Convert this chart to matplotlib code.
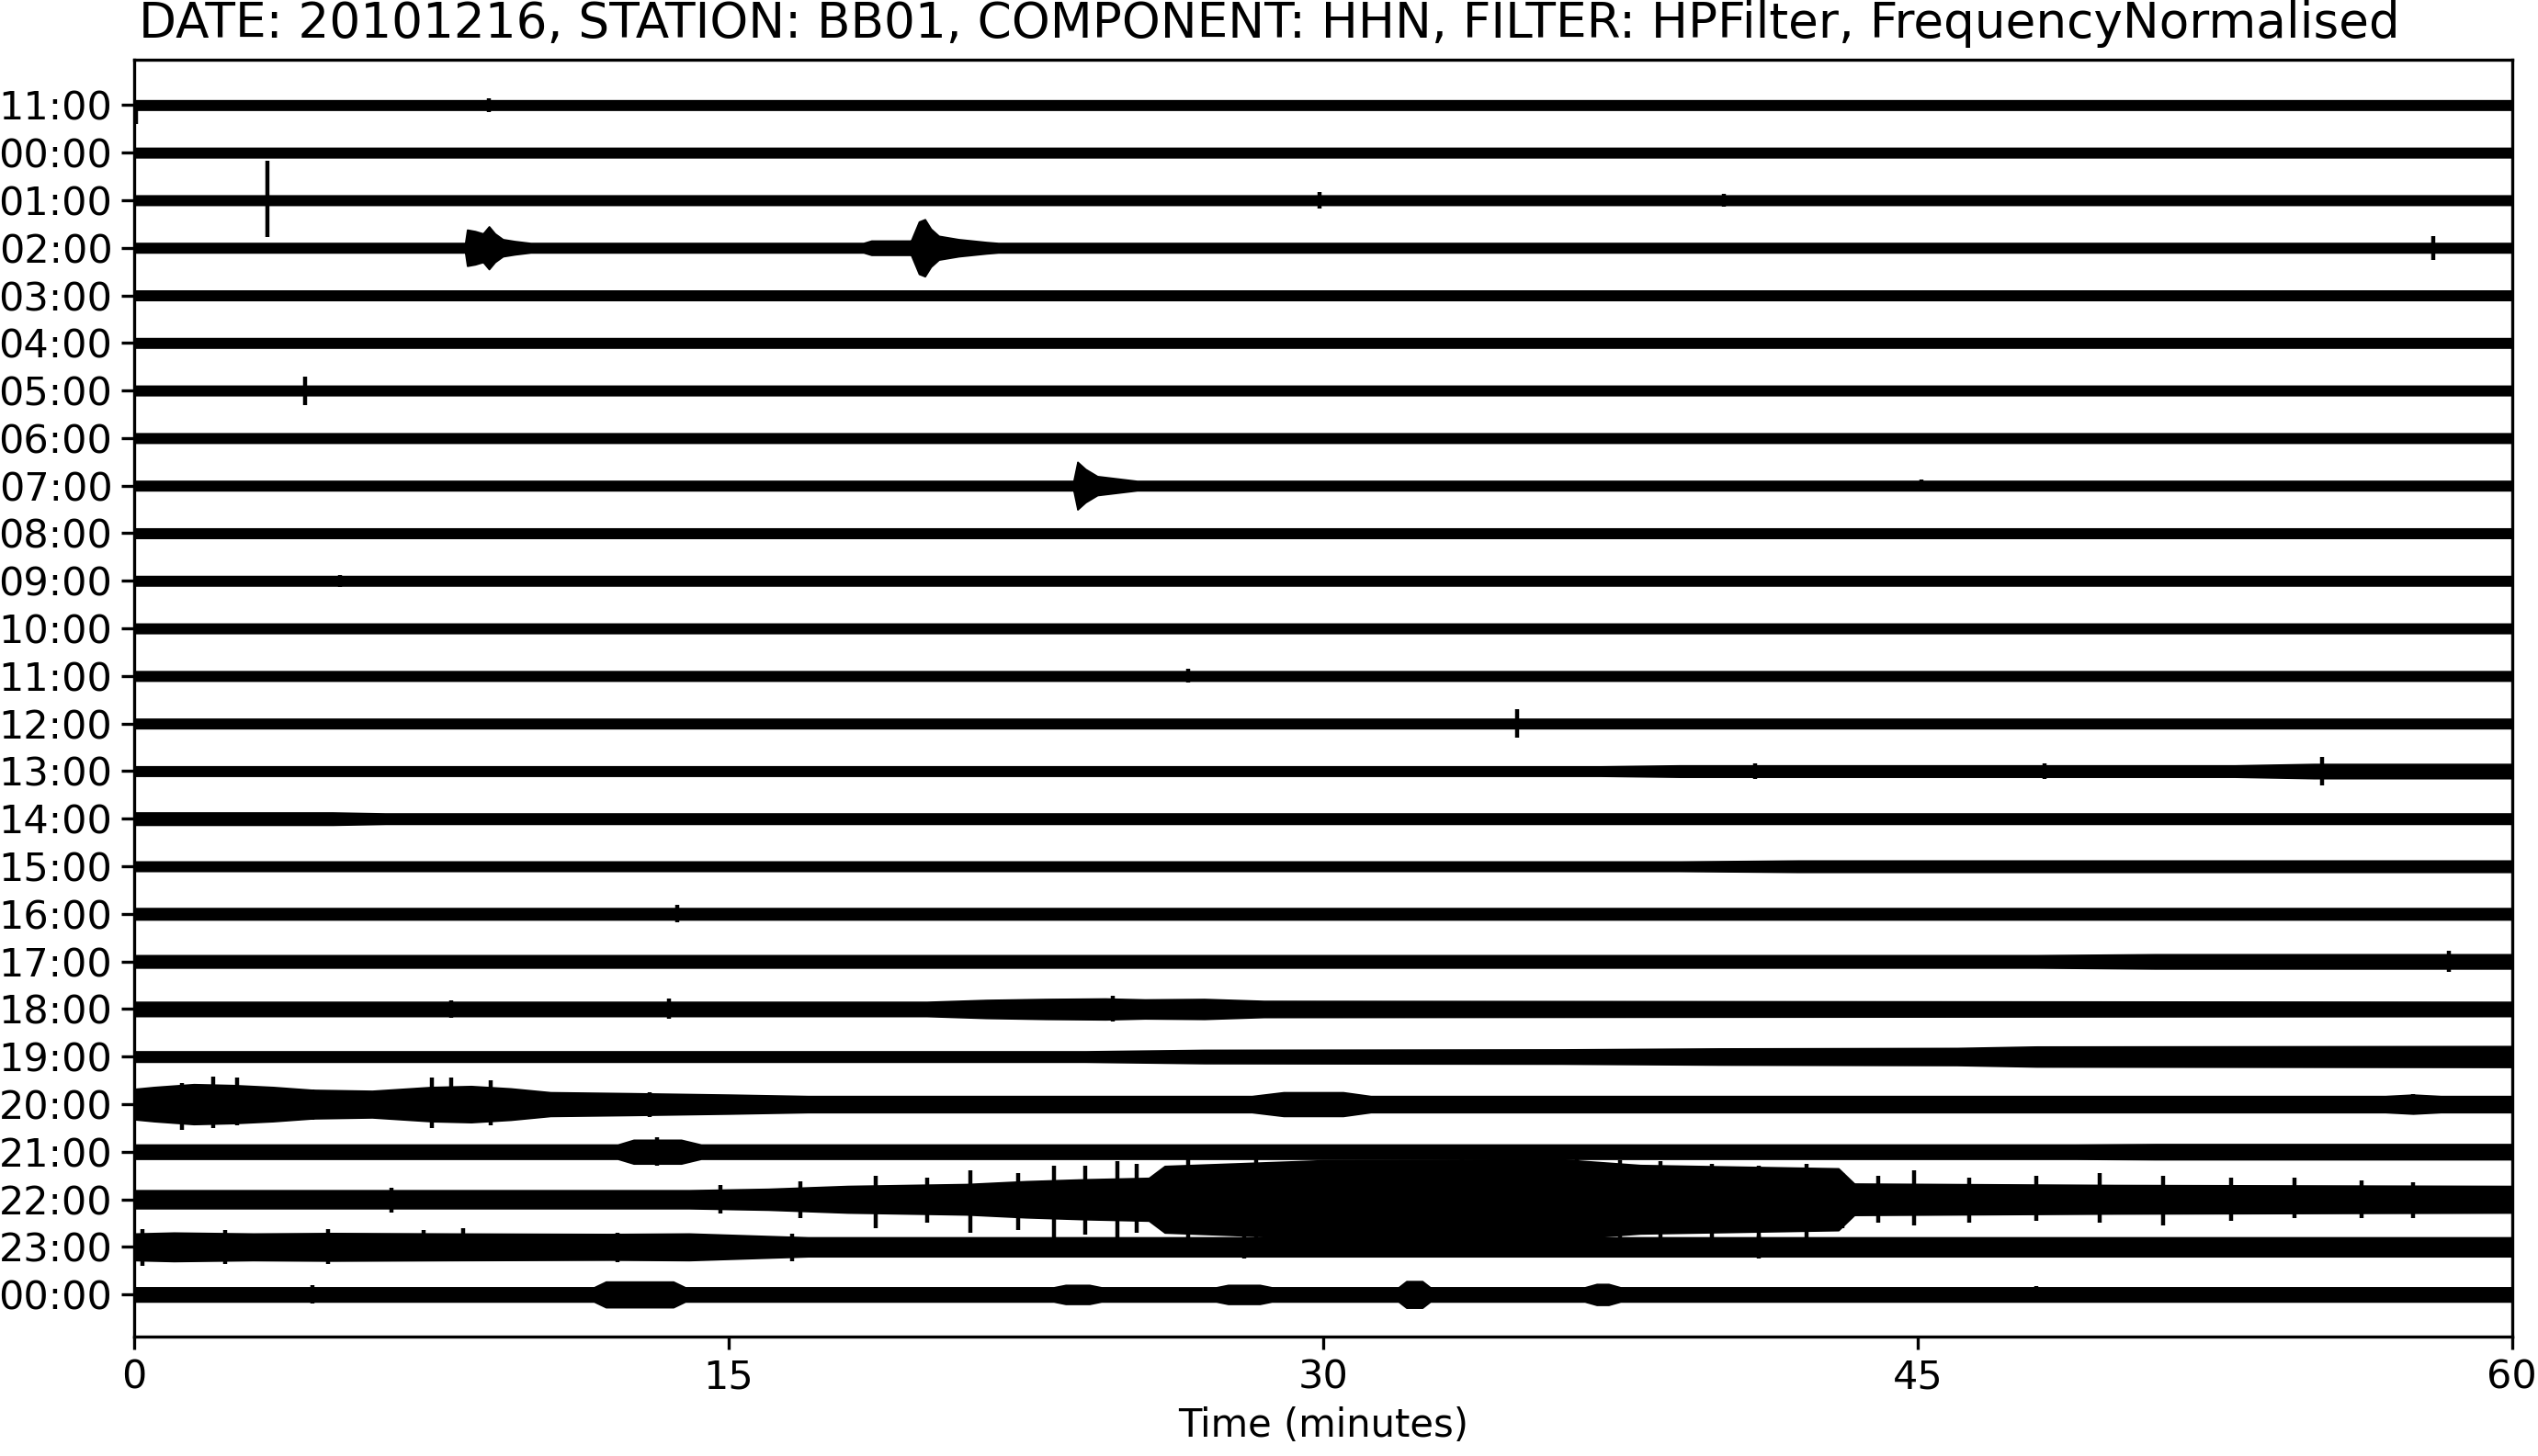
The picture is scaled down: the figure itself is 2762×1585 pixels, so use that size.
import numpy as np
import matplotlib
matplotlib.use("Agg")
import matplotlib.pyplot as plt

# hour rows, top to bottom
hour_labels = ["11:00", "00:00", "01:00", "02:00", "03:00", "04:00", "05:00",
               "06:00", "07:00", "08:00", "09:00", "10:00", "11:00", "12:00",
               "13:00", "14:00", "15:00", "16:00", "17:00", "18:00", "19:00",
               "20:00", "21:00", "22:00", "23:00", "00:00"]

# background half-width of each trace (in row units)
base_amp = [0.10, 0.10, 0.10, 0.10, 0.10, 0.10, 0.10, 0.10, 0.10, 0.10,
            0.10, 0.10, 0.10, 0.10, 0.10, 0.11, 0.10, 0.12, 0.13, 0.15,
            0.11, 0.17, 0.15, 0.19, 0.20, 0.15]

env_rows = [3, 3, 8, 14, 15, 16, 18, 19, 20, 21, 22, 23, 24, 25]
env_times = [
    [8.35, 8.40, 8.60, 8.80, 8.95, 9.10, 9.30, 9.60, 10.0],
    [18.4, 18.6, 19.6, 19.8, 19.95, 20.1, 20.3, 20.8, 21.5, 21.8],
    [23.7, 23.8, 24.0, 24.3, 24.8, 25.3],
    [0, 37, 39, 53, 55, 60],
    [0, 5, 7, 60],
    [0, 39, 42, 60],
    [0, 48, 51, 60],
    [0, 20, 21.5, 23, 24.5, 25.5, 27, 28.5, 60],
    [0, 24, 27, 36, 40, 46, 48, 60],
    [0, 0.5, 1.5, 2.5, 3.5, 4.5, 6, 7.5, 8.5, 9.5, 10.5, 12.5, 15, 17,
     28.2, 29, 30.5, 31.2, 56.8, 57.5, 58.2, 60],
    [0, 12.2, 12.6, 13.8, 14.3, 49, 51, 60],
    [0, 14, 16, 18, 19.5, 21, 22.5, 24, 25.6, 26.0, 30, 36, 38, 43.0,
     43.4, 50, 60],
    [0, 1, 3, 5, 8, 12, 14, 15.5, 17, 45, 50, 52, 60],
    [0, 11.6, 11.9, 13.6, 13.9, 23.2, 23.5, 24.1, 24.4, 27.3, 27.6, 28.4,
     28.7, 31.9, 32.1, 32.5, 32.7, 36.6, 36.9, 37.2, 37.5, 60],
]
env_amps = [
    [0.10, 0.38, 0.35, 0.30, 0.45, 0.30, 0.18, 0.14, 0.10],
    [0.10, 0.15, 0.15, 0.55, 0.60, 0.40, 0.25, 0.18, 0.12, 0.10],
    [0.10, 0.50, 0.35, 0.20, 0.15, 0.10],
    [0.10, 0.10, 0.12, 0.12, 0.15, 0.15],
    [0.13, 0.13, 0.10, 0.10],
    [0.10, 0.10, 0.12, 0.12],
    [0.13, 0.13, 0.15, 0.15],
    [0.15, 0.15, 0.19, 0.21, 0.22, 0.20, 0.21, 0.17, 0.15],
    [0.11, 0.11, 0.14, 0.15, 0.17, 0.18, 0.21, 0.22],
    [0.32, 0.36, 0.42, 0.40, 0.36, 0.30, 0.28, 0.36, 0.38, 0.33, 0.25,
     0.23, 0.20, 0.17, 0.17, 0.25, 0.25, 0.17, 0.17, 0.20, 0.17, 0.17],
    [0.15, 0.15, 0.25, 0.25, 0.15, 0.15, 0.16, 0.16],
    [0.19, 0.19, 0.22, 0.28, 0.30, 0.32, 0.38, 0.42, 0.45, 0.70, 0.82,
     0.84, 0.72, 0.65, 0.33, 0.30, 0.28],
    [0.28, 0.30, 0.28, 0.29, 0.28, 0.27, 0.28, 0.24, 0.20, 0.20, 0.19,
     0.16, 0.16],
    [0.15, 0.15, 0.27, 0.27, 0.15, 0.15, 0.20, 0.20, 0.15, 0.15, 0.20,
     0.20, 0.15, 0.15, 0.28, 0.28, 0.15, 0.15, 0.22, 0.22, 0.15, 0.15],
]

# single spikes: (row, minute, up, down)
spikes = [
    (0, 0.05, 0.40, 0.10), (0, 8.95, 0.15, 0.15),
    (2, 3.35, 0.78, 0.82), (2, 29.9, 0.18, 0.18), (2, 40.1, 0.13, 0.13),
    (3, 58.0, 0.25, 0.25), (6, 4.3, 0.30, 0.30), (8, 45.1, 0.13, 0.13),
    (10, 5.2, 0.13, 0.13), (12, 26.6, 0.13, 0.15),
    (13, 34.9, 0.30, 0.30), (14, 40.9, 0.16, 0.16), (14, 48.2, 0.16, 0.16),
    (14, 55.2, 0.30, 0.30), (17, 13.7, 0.18, 0.18), (18, 58.4, 0.22, 0.22),
    (19, 8.0, 0.19, 0.19), (19, 13.5, 0.20, 0.22), (19, 24.7, 0.27, 0.27),
    (21, 57.5, 0.22, 0.22),
    (21, 1.2, 0.55, 0.45), (21, 2.0, 0.50, 0.58), (21, 2.6, 0.45, 0.55),
    (21, 4.5, 0.33, 0.30), (21, 7.5, 0.50, 0.55), (21, 8.0, 0.35, 0.55),
    (21, 9.0, 0.45, 0.50), (21, 11.0, 0.28, 0.25), (21, 13.0, 0.28, 0.25),
    (22, 13.2, 0.30, 0.30),
    (23, 6.5, 0.28, 0.25), (23, 14.8, 0.30, 0.30), (23, 16.8, 0.40, 0.38),
    (23, 18.7, 0.60, 0.50), (23, 20.0, 0.50, 0.45), (23, 21.1, 0.70, 0.60),
    (23, 22.3, 0.65, 0.55), (23, 23.2, 0.80, 0.70), (23, 24.0, 0.75, 0.70),
    (23, 24.8, 0.85, 0.80), (23, 25.3, 0.70, 0.75),
    (23, 26.6, 0.90, 0.85), (23, 28.3, 0.92, 0.85), (23, 33.5, 0.92, 0.90),
    (23, 36.4, 0.90, 0.85), (23, 37.5, 0.88, 0.82),
    (23, 38.5, 0.85, 0.80), (23, 39.8, 0.80, 0.75),
    (23, 41.0, 0.85, 0.70), (23, 42.2, 0.80, 0.75),
    (23, 43.1, 0.60, 0.55), (23, 44.0, 0.50, 0.50),
    (23, 44.9, 0.55, 0.60), (23, 46.3, 0.50, 0.45), (23, 48.0, 0.45, 0.50),
    (23, 49.6, 0.50, 0.55), (23, 51.2, 0.55, 0.50), (23, 52.9, 0.45, 0.45),
    (23, 54.5, 0.40, 0.45), (23, 56.2, 0.40, 0.40), (23, 57.5, 0.40, 0.35),
    (24, 0.2, 0.40, 0.38), (24, 2.3, 0.36, 0.35), (24, 4.9, 0.36, 0.38),
    (24, 7.3, 0.30, 0.35), (24, 8.3, 0.28, 0.40), (24, 12.2, 0.33, 0.30),
    (24, 16.6, 0.30, 0.28), (24, 28.0, 0.25, 0.25), (24, 41.0, 0.24, 0.24),
    (25, 4.5, 0.20, 0.20), (25, 48.0, 0.18, 0.18),
]

fig = plt.figure(figsize=(13.81, 7.925), dpi=200)
ax = fig.add_axes([0.0529, 0.0822, 0.9369, 0.8767])

t = np.linspace(0, 60, 6001)
for row, label in enumerate(hour_labels):
    amp = np.full_like(t, base_amp[row])
    for r, et, ea in zip(env_rows, env_times, env_amps):
        if r == row:
            sel = (t >= et[0]) & (t <= et[-1])
            amp[sel] = np.maximum(amp[sel], np.interp(t[sel], et, ea))
    ax.fill_between(t, row - amp, row + amp, color="black", lw=0.6)

for r, ts, up, down in spikes:
    ax.vlines(ts, r - down, r + up, color="black", lw=1.6)

ax.set_xlim(0, 60)
ax.set_ylim(25.88, -0.95)
ax.set_xticks([0, 15, 30, 45, 60])
ax.set_yticks(range(len(hour_labels)))
ax.set_yticklabels(hour_labels)
ax.tick_params(labelsize=15.5, length=5, width=1.2)
for s in ax.spines.values():
    s.set_linewidth(1.2)
ax.set_xlabel("Time (minutes)", fontsize=15, labelpad=4)
fig.suptitle("DATE: 20101216, STATION: BB01, COMPONENT: HHN, FILTER: HPFilter, FrequencyNormalised",
             fontsize=19.2, y=0.9834, va="center")

fig.savefig("out.png", dpi=200)
